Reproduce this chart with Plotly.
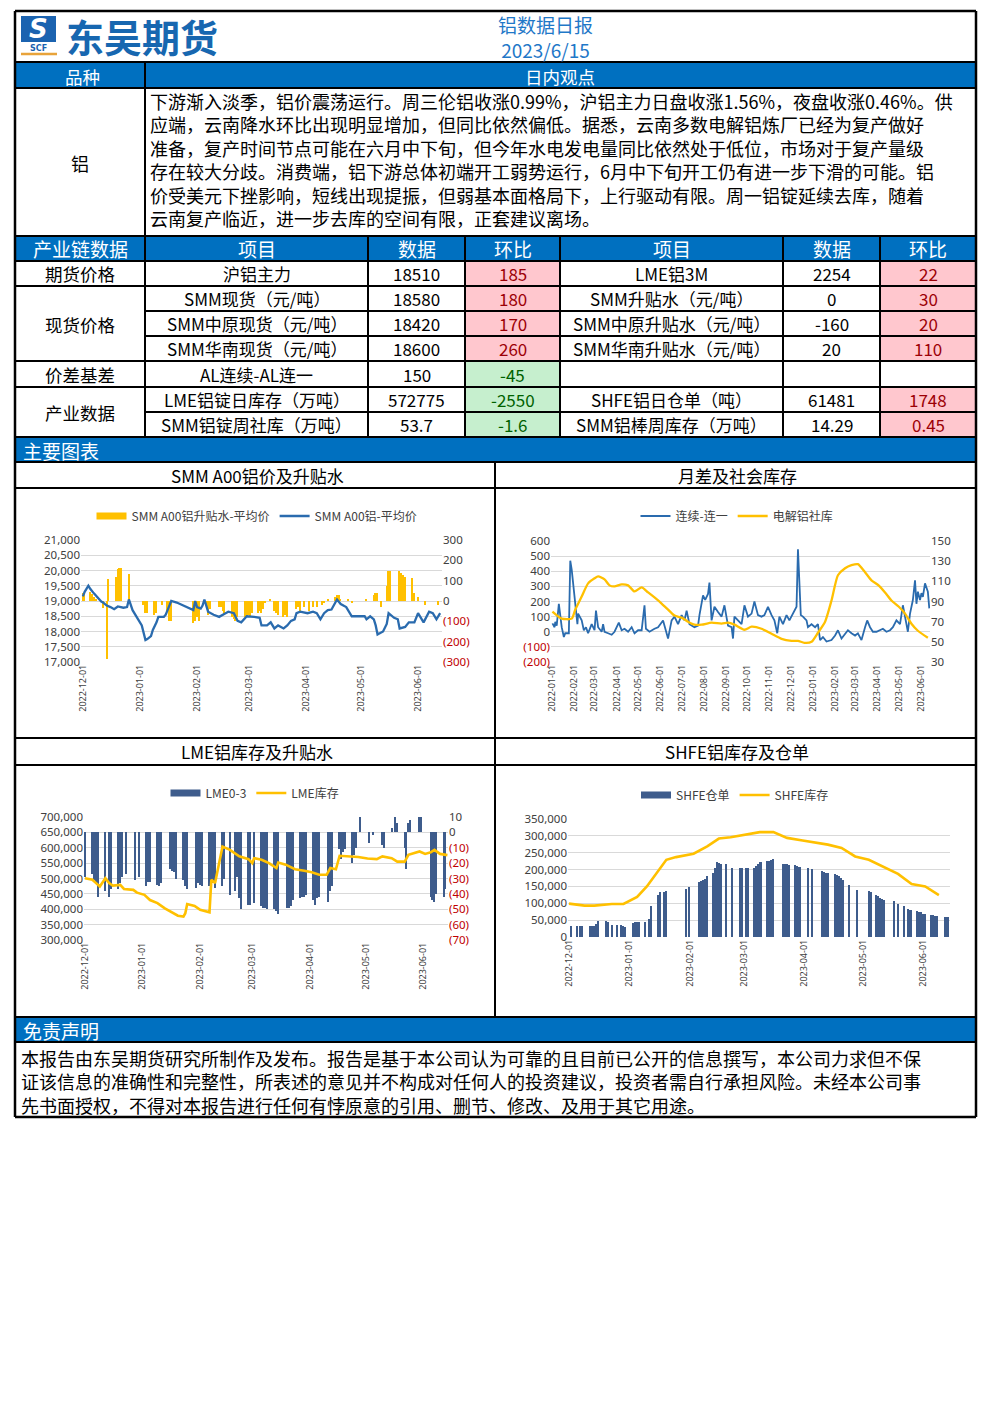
import plotly.graph_objects as go

W, H = 992, 1403
FONT = "Noto Sans CJK SC"
TFONT = "Noto Sans"
HDR = "#0070C0"
GOLD = "#FFC000"
LBLUE = "#2A6BAE"
DBLUE = "#3E5C8C"
GRID = "#D9D9D9"
TICKC = "#404040"
RED = "#C00000"
DAY = 86400000

# ---------------- text data ----------------
report_title = "铝数据日报"
report_date = "2023/6/15"
view_lines = [
    "下游渐入淡季，铝价震荡运行。周三伦铝收涨0.99%，沪铝主力日盘收涨1.56%，夜盘收涨0.46%。供",
    "应端，云南降水环比出现明显增加，但同比依然偏低。据悉，云南多数电解铝炼厂已经为复产做好",
    "准备，复产时间节点可能在六月中下旬，但今年水电发电量同比依然处于低位，市场对于复产量级",
    "存在较大分歧。消费端，铝下游总体初端开工弱势运行，6月中下旬开工仍有进一步下滑的可能。铝",
    "价受美元下挫影响，短线出现提振，但弱基本面格局下，上行驱动有限。周一铝锭延续去库，随着",
    "云南复产临近，进一步去库的空间有限，正套建议离场。",
]
disclaimer_lines = [
    "本报告由东吴期货研究所制作及发布。报告是基于本公司认为可靠的且目前已公开的信息撰写，本公司力求但不保",
    "证该信息的准确性和完整性，所表述的意见并不构成对任何人的投资建议，投资者需自行承担风险。未经本公司事",
    "先书面授权，不得对本报告进行任何有悖原意的引用、删节、修改、及用于其它用途。",
]

# ---------------- table data ----------------
table_headers = ["产业链数据", "项目", "数据", "环比", "项目", "数据", "环比"]
row_groups = [("期货价格", 0, 1), ("现货价格", 1, 4), ("价差基差", 4, 5), ("产业数据", 5, 7)]
items_left = ["沪铝主力", "SMM现货（元/吨）", "SMM中原现货（元/吨）", "SMM华南现货（元/吨）",
              "AL连续-AL连一", "LME铝锭日库存（万吨）", "SMM铝锭周社库（万吨）"]
data_left = ["18510", "18580", "18420", "18600", "150", "572775", "53.7"]
chg_left = ["185", "180", "170", "260", "-45", "-2550", "-1.6"]
items_right = ["LME铝3M", "SMM升贴水（元/吨）", "SMM中原升贴水（元/吨）", "SMM华南升贴水（元/吨）",
               "", "SHFE铝日仓单（吨）", "SMM铝棒周库存（万吨）"]
data_right = ["2254", "0", "-160", "20", "", "61481", "14.29"]
chg_right = ["22", "30", "20", "110", "", "1748", "0.45"]

# ---------------- chart 1: SMM A00 ----------------
c1_price_dates = ["2022-12-01", "2022-12-02", "2022-12-04", "2022-12-05", "2022-12-07", "2022-12-09",
                  "2022-12-11", "2022-12-12", "2022-12-14", "2022-12-16", "2022-12-18", "2022-12-20",
                  "2022-12-22", "2022-12-23", "2022-12-25", "2022-12-26", "2022-12-28", "2022-12-29",
                  "2022-12-31", "2023-01-02", "2023-01-04", "2023-01-05", "2023-01-07", "2023-01-08",
                  "2023-01-10", "2023-01-11", "2023-01-14", "2023-01-15", "2023-01-16", "2023-01-18",
                  "2023-01-21", "2023-01-25", "2023-01-29", "2023-01-30", "2023-01-31", "2023-02-01",
                  "2023-02-03", "2023-02-04", "2023-02-05", "2023-02-07", "2023-02-10", "2023-02-13",
                  "2023-02-16", "2023-02-18", "2023-02-21", "2023-02-23", "2023-02-25", "2023-02-28",
                  "2023-03-04", "2023-03-07", "2023-03-08", "2023-03-11", "2023-03-13", "2023-03-15",
                  "2023-03-17", "2023-03-20", "2023-03-22", "2023-03-24", "2023-03-26", "2023-03-27",
                  "2023-03-29", "2023-04-02", "2023-04-05", "2023-04-07", "2023-04-09", "2023-04-11",
                  "2023-04-13", "2023-04-15", "2023-04-18", "2023-04-20", "2023-04-23", "2023-04-26",
                  "2023-04-29", "2023-05-03", "2023-05-04", "2023-05-06", "2023-05-08", "2023-05-09",
                  "2023-05-10", "2023-05-13", "2023-05-15", "2023-05-16", "2023-05-19", "2023-05-21",
                  "2023-05-22", "2023-05-25", "2023-05-27", "2023-05-30", "2023-06-01", "2023-06-02",
                  "2023-06-04", "2023-06-07", "2023-06-09", "2023-06-11", "2023-06-13"]
c1_price_vals = [19150, 19300, 19500, 19400, 19250, 19100,
                 18980, 18950, 18850, 18800, 18730, 18820,
                 18800, 18780, 18800, 19050, 18700, 18600,
                 18400, 18200, 17720, 17750, 17850, 18050,
                 18300, 18480, 18480, 18550, 18700, 19000,
                 18950, 18850, 18750, 18700, 19000, 18800,
                 18750, 18850, 19050, 18650, 18550, 18480,
                 18580, 18650, 18600, 18350, 18300, 18500,
                 18480, 18450, 18200, 18200, 18300, 18100,
                 18200, 18100, 18200, 18350, 18400, 18600,
                 18650, 18600, 18650, 18600, 18400, 18600,
                 18700, 18720, 19050, 18900, 18800, 18500,
                 18500, 18500, 18400, 18500, 18400, 18200,
                 17900, 18000, 18250, 18600, 18450, 18400,
                 18100, 18150, 18300, 18300, 18600, 18500,
                 18300, 18650, 18600, 18400, 18600]
c1_prem_dates = ["2022-12-01", "2022-12-02", "2022-12-05", "2022-12-06", "2022-12-07", "2022-12-08",
                 "2022-12-12", "2022-12-14", "2022-12-15", "2022-12-19", "2022-12-20", "2022-12-21",
                 "2022-12-22", "2022-12-26",
                 "2023-01-03", "2023-01-04", "2023-01-05", "2023-01-09", "2023-01-10", "2023-01-13",
                 "2023-01-16", "2023-01-17", "2023-01-18", "2023-01-30", "2023-01-31", "2023-02-01",
                 "2023-02-02", "2023-02-06", "2023-02-07", "2023-02-08", "2023-02-13", "2023-02-14",
                 "2023-02-15", "2023-02-16", "2023-02-20", "2023-02-21", "2023-02-22", "2023-02-23",
                 "2023-02-27", "2023-02-28", "2023-03-01", "2023-03-02", "2023-03-03", "2023-03-06",
                 "2023-03-07", "2023-03-08", "2023-03-09", "2023-03-10", "2023-03-13", "2023-03-15",
                 "2023-03-16", "2023-03-17", "2023-03-20", "2023-03-21", "2023-03-22", "2023-03-27",
                 "2023-03-28", "2023-03-29", "2023-03-31", "2023-04-03", "2023-04-05", "2023-04-07",
                 "2023-04-10", "2023-04-11", "2023-04-13", "2023-04-17", "2023-04-18", "2023-04-19",
                 "2023-04-20", "2023-04-24", "2023-04-26", "2023-05-04", "2023-05-08", "2023-05-09",
                 "2023-05-10", "2023-05-12", "2023-05-15", "2023-05-16", "2023-05-17", "2023-05-22",
                 "2023-05-23", "2023-05-24", "2023-05-25", "2023-05-29", "2023-05-30", "2023-06-01",
                 "2023-06-05", "2023-06-12"]
c1_prem_vals = [40, 40, 45, 35, 20, 10,
                -35, -285, 110, 120, 155, 160,
                160, 135,
                -20, -60, -60, -70, -60, -20,
                -50, -100, -100, -110, -100, -80,
                -100, -20, -70, -40, -30, -30,
                -50, -70, -80, -90, -100, -80,
                -80, -80, -70, -80, -60, -60,
                -50, -60, -40, -10, 10, -50,
                -60, -70, -80, -70, -80, -40,
                -30, -50, -30, -50, -30, -30,
                -20, -10, 10, 20, 30, 30,
                10, 5, -5, 5, 30, 40,
                40, -30, 75, 150, 150, 150,
                140, 130, 120, 115, 40, 20,
                -20, -20]

# ---------------- chart 2: spread & social inventory ----------------
c2_spread_dates = ["2022-01-01", "2022-01-04", "2022-01-05", "2022-01-07", "2022-01-10", "2022-01-14",
                   "2022-01-17", "2022-01-19", "2022-01-24", "2022-01-26", "2022-01-28", "2022-02-01",
                   "2022-02-03", "2022-02-05", "2022-02-06", "2022-02-08", "2022-02-11", "2022-02-14",
                   "2022-02-17", "2022-02-20", "2022-02-25", "2022-03-01", "2022-03-03", "2022-03-06",
                   "2022-03-11", "2022-03-13", "2022-03-15", "2022-03-20", "2022-03-25", "2022-03-29",
                   "2022-04-04", "2022-04-08", "2022-04-12", "2022-04-17", "2022-04-22", "2022-04-26",
                   "2022-05-01", "2022-05-06", "2022-05-10", "2022-05-12", "2022-05-17", "2022-05-24",
                   "2022-05-29", "2022-06-05", "2022-06-10", "2022-06-12", "2022-06-17", "2022-06-21",
                   "2022-06-26", "2022-07-01", "2022-07-05", "2022-07-08", "2022-07-12", "2022-07-19",
                   "2022-07-24", "2022-07-26", "2022-07-31", "2022-08-03", "2022-08-07", "2022-08-09",
                   "2022-08-12", "2022-08-16", "2022-08-21", "2022-08-26", "2022-08-30", "2022-09-04",
                   "2022-09-09", "2022-09-11", "2022-09-13", "2022-09-18", "2022-09-23", "2022-09-27",
                   "2022-10-02", "2022-10-07", "2022-10-11", "2022-10-16", "2022-10-21", "2022-10-25",
                   "2022-10-30", "2022-11-04", "2022-11-08", "2022-11-12", "2022-11-15", "2022-11-20",
                   "2022-11-25", "2022-11-29", "2022-12-04", "2022-12-09", "2022-12-11", "2022-12-15",
                   "2022-12-18", "2022-12-23", "2022-12-25", "2022-12-30", "2023-01-04", "2023-01-08",
                   "2023-01-11", "2023-01-15", "2023-01-20", "2023-01-27", "2023-02-01", "2023-02-05",
                   "2023-02-10", "2023-02-15", "2023-02-19", "2023-02-24", "2023-03-01", "2023-03-05",
                   "2023-03-10", "2023-03-15", "2023-03-18", "2023-03-22", "2023-03-26", "2023-03-31",
                   "2023-04-05", "2023-04-09", "2023-04-14", "2023-04-19", "2023-04-23", "2023-04-28",
                   "2023-05-03", "2023-05-07", "2023-05-11", "2023-05-14", "2023-05-17", "2023-05-19",
                   "2023-05-21", "2023-05-24", "2023-05-26", "2023-05-28", "2023-05-31", "2023-06-02",
                   "2023-06-04", "2023-06-07", "2023-06-09", "2023-06-11", "2023-06-13"]
c2_spread_vals = [55, 30, 65, 40, 185, 30,
                  -35, -10, -10, 470, 410, 250,
                  140, 50, 120, 100, 75, 10,
                  30, -10, 50, 10, 140, 30,
                  0, 50, 0, -10, -20, 0,
                  60, 10, 20, 0, 30, -10,
                  10, 10, 175, 20, 0, 20,
                  30, 75, -10, -45, 75, 100,
                  50, 110, 75, 140, 50, 30,
                  40, 110, 240, 210, 250, 325,
                  75, 165, 130, 100, 175, 40,
                  30, -45, 100, 75, 50, 175,
                  100, 120, 200, 110, 100, 110,
                  165, 110, 75, -10, 100, 50,
                  110, 75, 120, 165, 545, 110,
                  100, 75, 30, 50, 30, 50,
                  -55, -35, -65, -55, -25, 10,
                  -45, -10, 10, -10, -25, -10,
                  -55, 30, 75, 30, 0, 0,
                  10, 20, 0, 10, 30, 75,
                  50, 175, 75, 0, 120, 165,
                  210, 340, 185, 265, 210, 255,
                  230, 320, 285, 265, 155]
c2_inv_dates = ["2022-01-01", "2022-01-14", "2022-01-28", "2022-02-02", "2022-02-11", "2022-02-20",
                "2022-03-01", "2022-03-06", "2022-03-15", "2022-03-22", "2022-03-29", "2022-04-08",
                "2022-04-17", "2022-04-26", "2022-05-06", "2022-05-15", "2022-05-24", "2022-06-03",
                "2022-06-12", "2022-06-21", "2022-07-01", "2022-07-10", "2022-07-19", "2022-07-29",
                "2022-08-12", "2022-08-26", "2022-09-04", "2022-09-13", "2022-09-27", "2022-10-07",
                "2022-10-21", "2022-11-04", "2022-11-18", "2022-12-02", "2022-12-11", "2022-12-20",
                "2022-12-30", "2023-01-08", "2023-01-18", "2023-01-27", "2023-02-05", "2023-02-15",
                "2023-02-24", "2023-03-05", "2023-03-15", "2023-03-24", "2023-04-03", "2023-04-12",
                "2023-04-21", "2023-05-01", "2023-05-10", "2023-05-19", "2023-05-28", "2023-06-11"]
c2_inv_vals = [80, 73, 73, 82, 95, 108,
               113, 115, 112, 106, 105, 107,
               106, 100, 104, 99, 94, 88,
               82, 76, 74, 70, 67, 67,
               69, 68, 69, 67, 62, 65,
               63, 58, 53, 51, 51, 49,
               50, 59, 70, 91, 116, 123,
               126, 127, 119, 111, 106, 99,
               91, 85, 78, 68, 61, 54]

# ---------------- chart 3: LME ----------------
c3_spread_dates = ["2022-12-01", "2022-12-05", "2022-12-06", "2022-12-07", "2022-12-08", "2022-12-12",
                   "2022-12-14", "2022-12-15", "2022-12-19", "2022-12-20", "2022-12-21", "2022-12-23",
                   "2022-12-28", "2022-12-30", "2023-01-03", "2023-01-04", "2023-01-05", "2023-01-09",
                   "2023-01-10", "2023-01-11", "2023-01-16", "2023-01-17", "2023-01-18", "2023-01-19",
                   "2023-01-23", "2023-01-24", "2023-01-25", "2023-01-30", "2023-01-31", "2023-02-01",
                   "2023-02-02", "2023-02-06", "2023-02-07", "2023-02-08", "2023-02-09", "2023-02-13",
                   "2023-02-14", "2023-02-17", "2023-02-20", "2023-02-21", "2023-02-22", "2023-02-23",
                   "2023-02-27", "2023-02-28", "2023-03-02", "2023-03-06", "2023-03-07", "2023-03-08",
                   "2023-03-09", "2023-03-13", "2023-03-14", "2023-03-15", "2023-03-20", "2023-03-21",
                   "2023-03-22", "2023-03-23", "2023-03-27", "2023-03-28", "2023-03-29", "2023-03-30",
                   "2023-04-03", "2023-04-04", "2023-04-05", "2023-04-06", "2023-04-11", "2023-04-12",
                   "2023-04-13", "2023-04-17", "2023-04-18", "2023-04-19", "2023-04-20", "2023-04-24",
                   "2023-04-25", "2023-04-26", "2023-04-28", "2023-05-03", "2023-05-05", "2023-05-10",
                   "2023-05-11", "2023-05-15", "2023-05-17", "2023-05-18", "2023-05-22", "2023-05-23",
                   "2023-05-24", "2023-05-25", "2023-05-30", "2023-05-31", "2023-06-05", "2023-06-06",
                   "2023-06-07", "2023-06-08", "2023-06-12", "2023-06-13"]
c3_spread_vals = [-29, -27, -31, -33, -42, -38,
                  -42, -37, -37, -33, -29, -27,
                  -31, -29, -35, -32, -32, -34,
                  -35, -33, -24, -25, -26, -30,
                  -31, -35, -37, -36, -33, -34,
                  -35, -35, -31, -33, -36, -35,
                  -30, -41, -38, -29, -43, -50,
                  -47, -47, -46, -48, -49, -49,
                  -50, -50, -51, -53, -49, -49,
                  -48, -44, -43, -42, -42, -41,
                  -44, -47, -43, -42, -45, -38,
                  -35, -11, -17, -13, -11, -20,
                  -15, -10, 10, -7, -2, -8,
                  -10, 3, 10, 6, -10, -24,
                  6, 8, 10, 10, -42, -44,
                  -45, -40, -42, -37]
c3_stock_dates = ["2022-12-01", "2022-12-05", "2022-12-07", "2022-12-09", "2022-12-12", "2022-12-14",
                  "2022-12-16", "2022-12-20", "2022-12-22", "2022-12-27", "2022-12-29", "2023-01-02",
                  "2023-01-05", "2023-01-09", "2023-01-13", "2023-01-16", "2023-01-20", "2023-01-23",
                  "2023-01-24", "2023-01-25", "2023-01-29", "2023-02-01", "2023-02-06", "2023-02-07",
                  "2023-02-09", "2023-02-13", "2023-02-17", "2023-02-22", "2023-02-27", "2023-03-01",
                  "2023-03-02", "2023-03-06", "2023-03-10", "2023-03-14", "2023-03-15", "2023-03-19",
                  "2023-03-24", "2023-03-29", "2023-04-02", "2023-04-06", "2023-04-10", "2023-04-12",
                  "2023-04-15", "2023-04-17", "2023-04-21", "2023-04-27", "2023-05-02", "2023-05-07",
                  "2023-05-10", "2023-05-15", "2023-05-18", "2023-05-22", "2023-05-24", "2023-05-27",
                  "2023-05-30", "2023-06-02", "2023-06-05", "2023-06-07", "2023-06-10", "2023-06-14"]
c3_stock_vals = [501000, 496000, 485000, 474000, 501000, 485000,
                 477000, 479000, 466000, 463000, 454000, 447000,
                 430000, 420000, 403000, 392000, 379000, 376000,
                 387000, 417000, 411000, 398000, 390000, 496000,
                 485000, 604000, 593000, 572000, 563000, 550000,
                 566000, 561000, 550000, 534000, 552000, 545000,
                 530000, 525000, 520000, 512000, 512000, 534000,
                 530000, 574000, 572000, 570000, 565000, 563000,
                 572000, 566000, 555000, 555000, 577000, 583000,
                 588000, 580000, 585000, 593000, 580000, 576000]

# ---------------- chart 4: SHFE ----------------
c4_wr_dates = ["2022-12-02", "2022-12-05", "2022-12-07", "2022-12-08", "2022-12-12", "2022-12-13",
               "2022-12-14", "2022-12-15", "2022-12-16", "2022-12-20", "2022-12-21", "2022-12-23",
               "2022-12-26", "2022-12-28", "2022-12-29", "2022-12-30", "2023-01-03", "2023-01-04",
               "2023-01-05", "2023-01-06", "2023-01-09", "2023-01-11", "2023-01-12", "2023-01-16",
               "2023-01-17", "2023-01-19", "2023-01-20", "2023-01-30", "2023-02-01", "2023-02-06",
               "2023-02-07", "2023-02-08", "2023-02-09", "2023-02-10", "2023-02-13", "2023-02-14",
               "2023-02-15", "2023-02-16", "2023-02-17", "2023-02-20", "2023-02-23", "2023-02-27",
               "2023-02-28", "2023-03-02", "2023-03-03", "2023-03-06", "2023-03-07", "2023-03-08",
               "2023-03-09", "2023-03-10", "2023-03-13", "2023-03-14", "2023-03-15", "2023-03-16",
               "2023-03-21", "2023-03-22", "2023-03-23", "2023-03-24", "2023-03-27", "2023-03-28",
               "2023-03-29", "2023-03-30", "2023-04-03", "2023-04-05", "2023-04-10", "2023-04-11",
               "2023-04-12", "2023-04-13", "2023-04-17", "2023-04-18", "2023-04-19", "2023-04-20",
               "2023-04-21", "2023-04-24", "2023-04-28", "2023-05-04", "2023-05-05", "2023-05-08",
               "2023-05-09", "2023-05-10", "2023-05-11", "2023-05-12", "2023-05-17", "2023-05-19",
               "2023-05-22", "2023-05-24", "2023-05-25", "2023-05-26", "2023-05-29", "2023-05-30",
               "2023-05-31", "2023-06-01", "2023-06-02", "2023-06-05", "2023-06-06", "2023-06-07",
               "2023-06-08", "2023-06-12", "2023-06-13", "2023-06-14"]
c4_wr_vals = [31600, 32000, 32000, 32000, 32000, 32000,
              33600, 38600, 46000, 46000, 43500, 36600,
              36600, 36600, 32000, 30000, 41500, 43500,
              44500, 44500, 44500, 53000, 91000, 125600,
              132500, 133500, 135500, 143000, 147000, 162000,
              165000, 168000, 172000, 180000, 190000, 204700,
              221500, 219500, 217500, 217500, 204700, 203700,
              203700, 203700, 203700, 204700, 209600, 217500,
              221500, 221500, 224400, 226400, 229400, 231400,
              217500, 216500, 215500, 212600, 212600, 209600,
              207600, 206600, 204700, 201700, 194800, 191800,
              189800, 189800, 187900, 184900, 180000, 175000,
              170000, 155000, 140400, 137400, 132500, 125600,
              120600, 116700, 112700, 108800, 105800, 98900,
              91000, 83000, 81000, 79000, 76000, 74000,
              73000, 69000, 68000, 66000, 64000, 63000,
              61000, 59000, 60000, 60000]
c4_stock_dates = ["2022-12-01", "2022-12-04", "2022-12-09", "2022-12-14", "2022-12-19", "2022-12-23",
                  "2022-12-29", "2023-01-05", "2023-01-10", "2023-01-15", "2023-01-20", "2023-01-25",
                  "2023-01-29", "2023-02-03", "2023-02-10", "2023-02-16", "2023-02-22", "2023-03-01",
                  "2023-03-09", "2023-03-16", "2023-03-23", "2023-03-31", "2023-04-07", "2023-04-13",
                  "2023-04-20", "2023-04-27", "2023-05-04", "2023-05-10", "2023-05-19", "2023-05-26",
                  "2023-06-02", "2023-06-09"]
c4_stock_vals = [99000, 96000, 93000, 93000, 96000, 98000,
                 98000, 119000, 150000, 190000, 229000, 237000,
                 242000, 247000, 269000, 292000, 296000, 302000,
                 311000, 311000, 294000, 286000, 279000, 274000,
                 264000, 239000, 229000, 212000, 187000, 157000,
                 150000, 124000]

# ---------------- helpers ----------------
shapes, annotations = [], []


def X(x):
    return x / W


def Y(y):
    return 1 - y / H


def line(x0, y0, x1, y1, w=2, c="black"):
    shapes.append(dict(type="line", xref="paper", yref="paper", x0=X(x0), y0=Y(y0),
                       x1=X(x1), y1=Y(y1), line=dict(color=c, width=w), layer="above"))


def rect(x0, y0, x1, y1, fill):
    shapes.append(dict(type="rect", xref="paper", yref="paper", x0=X(x0), y0=Y(y1),
                       x1=X(x1), y1=Y(y0), fillcolor=fill, line=dict(width=0), layer="below"))


def text(x, y, s, size=17, color="black", anchor="center", family=FONT, align="center"):
    annotations.append(dict(x=X(x), y=Y(y), xref="paper", yref="paper", text=s, showarrow=False,
                            xanchor=anchor, yanchor="middle", borderpad=0, align=align,
                            font=dict(size=size, color=color, family=family)))


L, R = 15, 976
# blue bars
rect(L, 62, R, 88, HDR)
rect(L, 236, R, 261, HDR)
rect(L, 437, R, 462, HDR)
rect(L, 1017, R, 1042, HDR)

# logo
rect(21, 16, 56, 42, "#1B63B0")
text(38.5, 29, "<b><i>S</i></b>", 26, "white", family="DejaVu Sans")
text(38.5, 48, "<b>SCF</b>", 8, "#1B63B0", family="DejaVu Sans")
line(21, 54, 57, 54, 2.5, "#E8A33A")
text(65, 35, "<b>东吴期货</b>", 38, "#1767B0", anchor="left")
text(545, 37, report_title + "<br>" + report_date, 19, "#1F78C8")

# view block
text(82, 76, "品种", 17.5, "white")
text(560, 76, "日内观点", 17.5, "white")
text(80, 163, "铝", 18)
text(149, 159, "<br>".join(view_lines), 18, anchor="left", align="left")

# industry table
col_x = [15, 145, 368, 465, 560, 783, 880, 976]
row_y = [261, 286, 311, 336, 361, 387, 412, 437]
for i, h in enumerate(table_headers):
    cx = (col_x[i] + col_x[i + 1]) / 2
    text(cx, 248, h, 19, "white")


def chg_style(s):
    if s.startswith("-"):
        return "#C6EFCE", "#006100"
    return "#FFC7CE", "#9C0006"


for r in range(7):
    yc = (row_y[r] + row_y[r + 1]) / 2
    for ci, (it, dv, cv) in enumerate([(items_left[r], data_left[r], chg_left[r]),
                                        (items_right[r], data_right[r], chg_right[r])]):
        base = 1 + ci * 3
        if cv:
            fill, tc = chg_style(cv)
            rect(col_x[base + 2], row_y[r], col_x[base + 3], row_y[r + 1], fill)
            text((col_x[base + 2] + col_x[base + 3]) / 2, yc, cv, 17, tc)
        if it:
            text((col_x[base] + col_x[base + 1]) / 2, yc, it, 17)
        if dv:
            text((col_x[base + 1] + col_x[base + 2]) / 2, yc, dv, 17)
for name, r0, r1 in row_groups:
    text(80, (row_y[r0] + row_y[r1]) / 2 + 0.5, name, 17.5)

text(22, 450, "主要图表", 19, "white", anchor="left")
text(22, 1030, "免责声明", 19, "white", anchor="left")
text(20, 1081, "<br>".join(disclaimer_lines), 18, anchor="left", align="left")

chart_titles = ["SMM A00铝价及升贴水", "月差及社会库存", "LME铝库存及升贴水", "SHFE铝库存及仓单"]
text(257, 475, chart_titles[0], 17)
text(737, 475, chart_titles[1], 17)
text(257, 751, chart_titles[2], 17)
text(737, 751, chart_titles[3], 17)

# grid lines of the page
for y in [62, 88, 236, 261, 286, 361, 387, 437, 462, 488, 738, 765, 1017, 1042]:
    line(L, y, R, y)
for y in [311, 336, 412]:
    line(145, y, R, y)
line(145, 62, 145, 437)
for x in [368, 465, 560, 783, 880]:
    line(x, 236, x, 437)
line(495, 462, 495, 1017)
line(L, 11, R, 11, 2.5)
line(L, 1117, R, 1117, 2.5)
line(L, 11, L, 1117, 2.5)
line(R, 11, R, 1117, 2.5)

# ---------------- traces ----------------
fig = go.Figure()


def legend_swatch(name, color, legend, xa, ya):
    # legend-only entry drawn as a wide bar swatch (like the spreadsheet legend)
    fig.add_trace(go.Scatter(x=[None], y=[None], mode="lines", name=name,
                             line=dict(color=color, width=7), xaxis=xa, yaxis=ya,
                             legend=legend, hoverinfo="skip"))


legend_swatch("SMM A00铝升贴水-平均价", GOLD, "legend", "x", "y")
fig.add_trace(go.Bar(x=c1_prem_dates, y=c1_prem_vals, name="SMM A00铝升贴水-平均价",
                     marker=dict(color=GOLD, line=dict(width=0)), width=DAY * 0.8,
                     xaxis="x", yaxis="y", legend="legend", showlegend=False))
fig.add_trace(go.Scatter(x=c1_price_dates, y=c1_price_vals, name="SMM A00铝-平均价", mode="lines",
                         line=dict(color=LBLUE, width=2.3), xaxis="x", yaxis="y2", legend="legend"))
fig.add_trace(go.Scatter(x=c2_spread_dates, y=c2_spread_vals, name="连续-连一", mode="lines",
                         line=dict(color=LBLUE, width=1.8), xaxis="x2", yaxis="y3", legend="legend2"))
fig.add_trace(go.Scatter(x=c2_inv_dates, y=c2_inv_vals, name="电解铝社库", mode="lines",
                         line=dict(color=GOLD, width=2.3, shape="spline", smoothing=0.6),
                         xaxis="x2", yaxis="y4", legend="legend2"))
legend_swatch("LME0-3", DBLUE, "legend3", "x3", "y5")
fig.add_trace(go.Bar(x=c3_spread_dates, y=c3_spread_vals, name="LME0-3",
                     marker=dict(color=DBLUE, line=dict(width=0)), width=DAY * 0.7,
                     xaxis="x3", yaxis="y5", legend="legend3", showlegend=False))
fig.add_trace(go.Scatter(x=c3_stock_dates, y=c3_stock_vals, name="LME库存", mode="lines",
                         line=dict(color=GOLD, width=2.6), xaxis="x3", yaxis="y6", legend="legend3"))
legend_swatch("SHFE仓单", DBLUE, "legend4", "x4", "y7")
fig.add_trace(go.Bar(x=c4_wr_dates, y=c4_wr_vals, name="SHFE仓单",
                     marker=dict(color=DBLUE, line=dict(width=0)), width=DAY * 0.75,
                     xaxis="x4", yaxis="y7", legend="legend4", showlegend=False))
fig.add_trace(go.Scatter(x=c4_stock_dates, y=c4_stock_vals, name="SHFE库存", mode="lines",
                         line=dict(color=GOLD, width=2.6), xaxis="x4", yaxis="y7", legend="legend4"))


def dx(a, b):
    return [a / W, b / W]


def dy(top, bot):
    return [1 - bot / H, 1 - top / H]


tick_font = dict(size=11.5, color=TICKC, family=TFONT)
xbase = dict(type="date", tickformat="%Y-%m-%d", dtick="M1", tickangle=-90,
             tickfont=dict(size=9, color=TICKC, family=TFONT), showgrid=False, zeroline=False,
             showline=False, ticks="", automargin=False, fixedrange=True)
ybase = dict(zeroline=False, showline=False, ticks="", automargin=False, tickfont=tick_font,
             gridcolor=GRID, gridwidth=1, fixedrange=True)


def paren_ticks(vals):
    out = []
    for v in vals:
        if v < 0:
            out.append('<span style="color:%s">(%d)</span>' % (RED, -v))
        else:
            out.append(str(v))
    return out


c1_right_ticks = [-300, -200, -100, 0, 100, 200, 300]
c2_left_ticks = [-200, -100, 0, 100, 200, 300, 400, 500, 600]
c2_right_ticks = [30, 50, 70, 90, 110, 130, 150]
c3_right_ticks = [-70, -60, -50, -40, -30, -20, -10, 0, 10]

legend_base = dict(orientation="h", xanchor="center", yanchor="middle", bgcolor="rgba(0,0,0,0)",
                   font=dict(size=12, color="#404040", family=FONT), itemwidth=30, traceorder="normal")

fig.update_layout(
    width=W, height=H, autosize=False, margin=dict(l=0, r=0, t=0, b=0, pad=0),
    paper_bgcolor="white", plot_bgcolor="rgba(0,0,0,0)", font=dict(family=FONT),
    bargap=0, barmode="overlay", shapes=shapes, annotations=annotations,
    xaxis=dict(xbase, domain=dx(81, 442), range=["2022-11-30", "2023-06-14"],
               tick0="2022-12-01", anchor="y"),
    yaxis=dict(ybase, domain=dy(540, 662), anchor="x", side="right", range=[-300, 300],
               tickvals=c1_right_ticks, ticktext=paren_ticks(c1_right_ticks), showgrid=False),
    yaxis2=dict(ybase, overlaying="y", anchor="x", side="left", range=[17000, 21000], dtick=500,
                tickformat=",", showgrid=True),
    xaxis2=dict(xbase, domain=dx(551, 930), range=["2021-12-30", "2023-06-14"],
                tick0="2022-01-01", anchor="y3"),
    yaxis3=dict(ybase, domain=dy(541, 662), anchor="x2", side="left", range=[-200, 600],
                tickvals=c2_left_ticks, ticktext=paren_ticks(c2_left_ticks), showgrid=True),
    yaxis4=dict(ybase, overlaying="y3", anchor="x2", side="right", range=[30, 150],
                tickvals=c2_right_ticks, showgrid=False),
    xaxis3=dict(xbase, domain=dx(84, 448), range=["2022-11-30 12:00", "2023-06-14 07:00"],
                tick0="2022-12-01", anchor="y5"),
    yaxis5=dict(ybase, domain=dy(817, 940), anchor="x3", side="right", range=[-70, 10],
                tickvals=c3_right_ticks, ticktext=paren_ticks(c3_right_ticks), showgrid=True),
    yaxis6=dict(ybase, overlaying="y5", anchor="x3", side="left", range=[300000, 700000],
                dtick=50000, tickformat=",", showgrid=False),
    xaxis4=dict(xbase, domain=dx(568, 950), range=["2022-11-30 12:00", "2023-06-14 17:00"],
                tick0="2022-12-01", anchor="y7"),
    yaxis7=dict(ybase, domain=dy(819, 937), anchor="x4", side="left", range=[0, 350000],
                dtick=50000, tickformat=",", showgrid=True),
    legend=dict(legend_base, x=X(257), y=Y(516)),
    legend2=dict(legend_base, x=X(737), y=Y(516)),
    legend3=dict(legend_base, x=X(255), y=Y(793)),
    legend4=dict(legend_base, x=X(735), y=Y(795)),
    showlegend=True,
)

fig.write_html("out.html")
